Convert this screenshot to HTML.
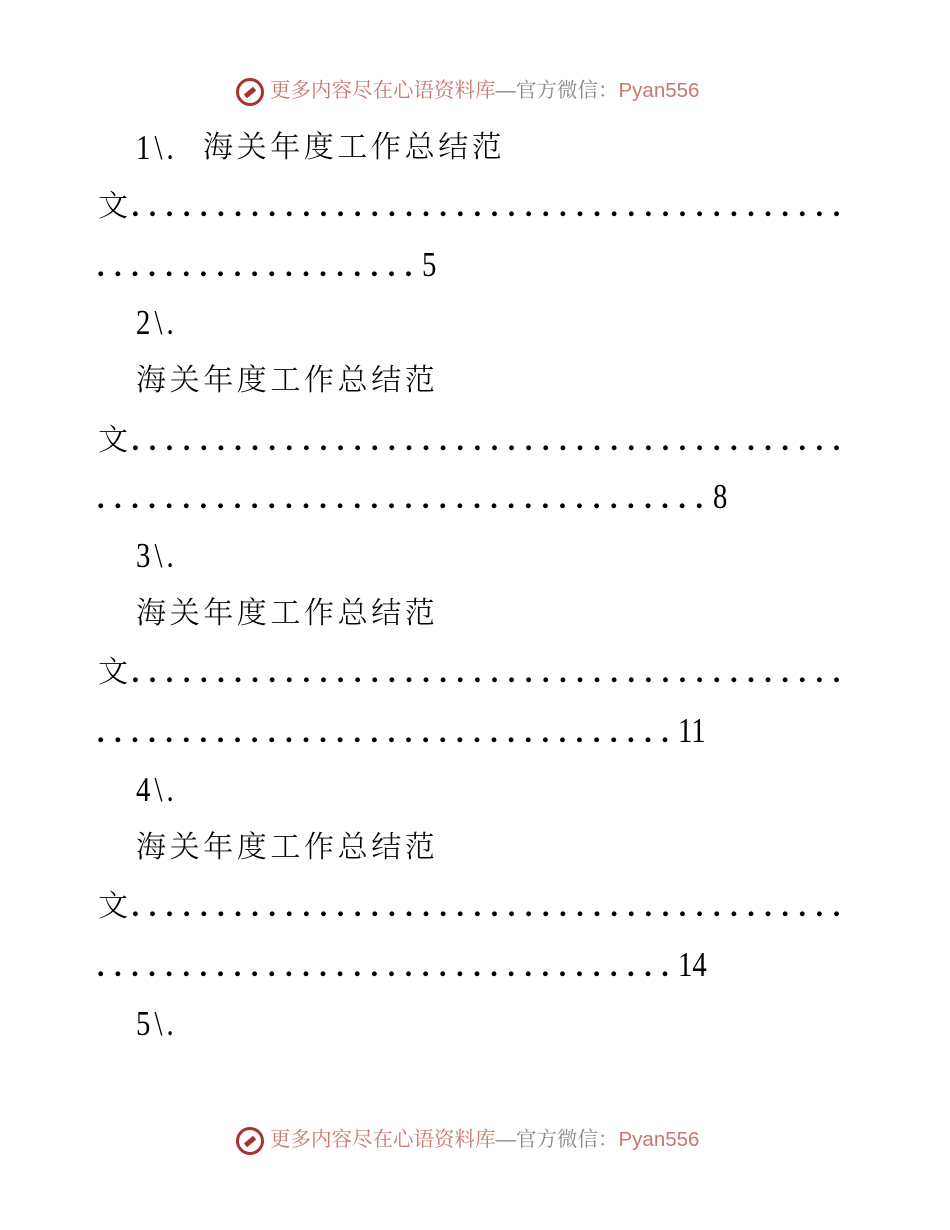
<!DOCTYPE html>
<html><head><meta charset="utf-8"><style>
body{margin:0;background:#fff;width:950px;height:1230px;position:relative;overflow:hidden}
.l{position:absolute;left:0;white-space:nowrap;font-family:"Liberation Serif","Noto Serif CJK SC",serif;font-size:30px;line-height:40px;color:#000}
.n{display:inline-block;font-size:35px;transform:scaleX(0.82);transform-origin:left center}
.h{letter-spacing:5px}
.c{letter-spacing:3.6px;font-family:"Liberation Serif","Noto Serif CJK SC",serif;font-weight:300}
.d{letter-spacing:9.6px;font-weight:bold}
.wm{position:absolute;left:236px;font-family:"Liberation Sans","Noto Serif CJK SC",sans-serif;font-size:20.5px;color:#c8786e;white-space:nowrap;line-height:30px}
.ic{display:inline-block;width:28px;height:28px;border-radius:50%;border:3px solid #a8322e;box-sizing:border-box;vertical-align:middle;margin-right:6px;position:relative}
.ic:after{content:"";position:absolute;left:5px;top:9px;width:12px;height:5px;background:#a8322e;transform:rotate(-40deg)}
.g{color:#888}
</style></head><body>
<div class="wm" style="top:76px"><span class="ic"></span>更多内容尽在心语资料库<span class="g">—官方微信：</span>Pyan556</div>
<div class="l" style="left:136px;top:128px"><span class="n h">1\.</span></div>
<div class="l" style="left:203px;top:128px"><span class="c">海关年度工作总结范</span></div>
<div class="l" style="left:98px;top:187px"><span class="c">文</span><span class="d">..........................................</span></div>
<div class="l" style="left:97px;top:245px"><span class="d">...................</span><span class="n">5</span></div>
<div class="l" style="left:136px;top:303px"><span class="n h">2\.</span></div>
<div class="l" style="left:136px;top:361px"><span class="c">海关年度工作总结范</span></div>
<div class="l" style="left:98px;top:421px"><span class="c">文</span><span class="d">..........................................</span></div>
<div class="l" style="left:97px;top:477px"><span class="d">....................................</span><span class="n">8</span></div>
<div class="l" style="left:136px;top:536px"><span class="n h">3\.</span></div>
<div class="l" style="left:136px;top:594px"><span class="c">海关年度工作总结范</span></div>
<div class="l" style="left:98px;top:653px"><span class="c">文</span><span class="d">..........................................</span></div>
<div class="l" style="left:97px;top:711px"><span class="d">..................................</span><span class="n">11</span></div>
<div class="l" style="left:136px;top:770px"><span class="n h">4\.</span></div>
<div class="l" style="left:136px;top:828px"><span class="c">海关年度工作总结范</span></div>
<div class="l" style="left:98px;top:887px"><span class="c">文</span><span class="d">..........................................</span></div>
<div class="l" style="left:97px;top:945px"><span class="d">..................................</span><span class="n">14</span></div>
<div class="l" style="left:136px;top:1004px"><span class="n h">5\.</span></div>
<div class="wm" style="top:1125px"><span class="ic"></span>更多内容尽在心语资料库<span class="g">—官方微信：</span>Pyan556</div>
</body></html>
